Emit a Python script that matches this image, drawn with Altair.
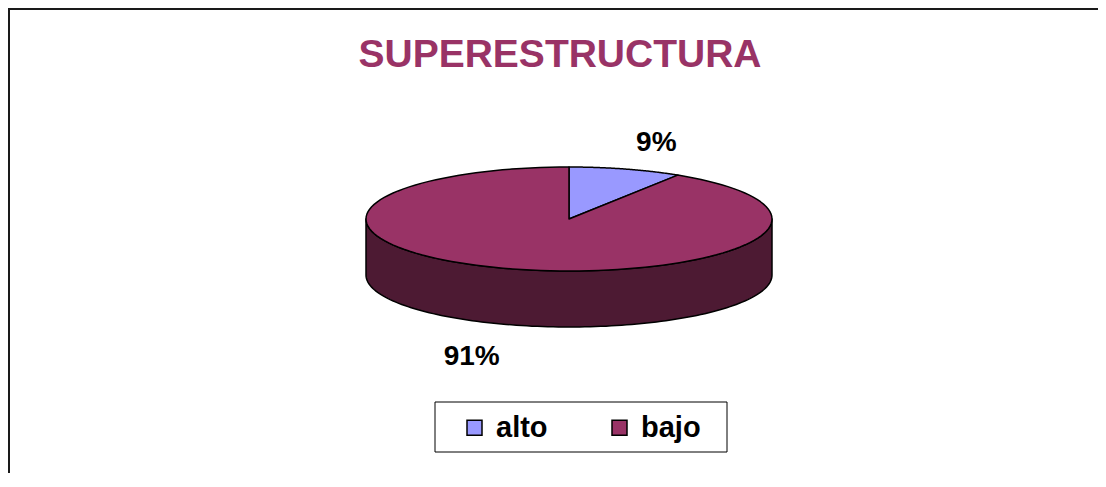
import altair as alt
import pandas as pd

TITLE = "SUPERESTRUCTURA"
categories = ["alto", "bajo"]
values = [9, 91]
top_colors = ["#9999FF", "#993366"]
side_colors = ["#4D4D80", "#4D1A33"]

# layout (pixels)
W, H = 1090, 465
PX = 203.0             # pixels per unit = pie x-radius
CX, CY = 561.0, 211.0  # pie centre inside the chart
SQ = 52.0 / PX         # vertical squash of the top face
DEPTH = 56.0 / PX      # thickness of the pie
RX, RY = 1.63, 1.52    # label radii
LDX = -5.0 / PX        # label nudge
LDY = 6.0 / PX         # extra drop for labels below the pie
N = 120
FONT = "Liberation Sans"

xs = alt.Scale(domain=[-CX / PX, (W - CX) / PX], nice=False, zero=False)
ys = alt.Scale(domain=[-(H - CY) / PX, CY / PX], nice=False, zero=False)

df = pd.DataFrame({"cat": categories, "val": values})

base = (
    alt.Chart(df)
    .transform_joinaggregate(total="sum(val)")
    .transform_window(cum="sum(val)", frame=[None, 0])
    .transform_calculate(t0="(datum.cum - datum.val) / datum.total")
    .transform_calculate(t1="datum.cum / datum.total")
)

# front side (extrusion) of each slice that lies on the visible half
side = (
    base.transform_calculate(s0="max(datum.t0, 0.25)")
    .transform_calculate(s1="min(datum.t1, 0.75)")
    .transform_filter("datum.s1 > datum.s0")
    .transform_calculate(idx=f"sequence(0, {2 * N + 2})")
    .transform_flatten(["idx"])
    .transform_calculate(k=f"datum.idx <= {N} ? datum.idx : {2 * N + 1} - datum.idx")
    .transform_calculate(dz=f"datum.idx <= {N} ? 0 : {DEPTH}")
    .transform_calculate(t=f"datum.s0 + (datum.s1 - datum.s0) * datum.k / {N}")
    .transform_calculate(px="sin(2 * PI * datum.t)")
    .transform_calculate(py=f"cos(2 * PI * datum.t) * {SQ} - datum.dz")
    .mark_line(filled=True, interpolate="linear-closed", stroke="black",
               strokeWidth=1.5, strokeJoin="round", opacity=1)
    .encode(
        x=alt.X("px:Q", scale=xs, axis=None),
        y=alt.Y("py:Q", scale=ys, axis=None),
        color=alt.Color("cat:N", scale=alt.Scale(domain=categories, range=side_colors), legend=None),
        order=alt.Order("idx:Q"),
    )
)

top = (
    base.transform_calculate(idx=f"sequence(0, {N + 2})")
    .transform_flatten(["idx"])
    .transform_calculate(t=f"datum.t0 + (datum.t1 - datum.t0) * min(datum.idx, {N}) / {N}")
    .transform_calculate(r=f"datum.idx > {N} ? 0 : 1")
    .transform_calculate(px="datum.r * sin(2 * PI * datum.t)")
    .transform_calculate(py=f"datum.r * cos(2 * PI * datum.t) * {SQ}")
    .mark_line(filled=True, interpolate="linear-closed", stroke="black",
               strokeWidth=1.5, strokeJoin="round", opacity=1)
    .encode(
        x=alt.X("px:Q", scale=xs, axis=None),
        y=alt.Y("py:Q", scale=ys, axis=None),
        color=alt.Color(
            "cat:N",
            scale=alt.Scale(domain=categories, range=top_colors),
            legend=alt.Legend(
                title=None, orient="none", legendX=427, legendY=394,
                direction="horizontal", symbolType="square", symbolSize=225,
                symbolStrokeColor="black", symbolStrokeWidth=1.5, symbolOpacity=1,
                labelFont=FONT, labelFontSize=29, labelFontWeight="bold",
                labelColor="black", labelOffset=7,
                padding=11, symbolOffset=14, columnPadding=43,
            ),
        ),
        order=alt.Order("idx:Q"),
    )
)

labels = (
    base.transform_calculate(mid="(datum.t0 + datum.t1) / 2")
    .transform_calculate(lbl="format(datum.val / datum.total, '.0%')")
    .transform_calculate(lx=f"{RX} * sin(2 * PI * datum.mid) + {LDX}")
    .transform_calculate(
        ly=f"{RY} * {SQ} * cos(2 * PI * datum.mid) - (cos(2 * PI * datum.mid) < 0 ? {DEPTH + LDY} : 0)"
    )
    .mark_text(font=FONT, fontSize=28, fontWeight="bold", color="black",
               align="center", baseline="middle")
    .encode(
        x=alt.X("lx:Q", scale=xs, axis=None),
        y=alt.Y("ly:Q", scale=ys, axis=None),
        text="lbl:N",
    )
)

one = pd.DataFrame({"t": [TITLE]})
title = alt.Chart(one).mark_text(
    font=FONT, fontSize=39, fontWeight="bold", color="#993366",
    align="center", baseline="alphabetic",
).encode(text="t:N", x=alt.value(552), y=alt.value(59))

border_top = alt.Chart(one).mark_rule(color="#1a1a1a", strokeWidth=2).encode(
    x=alt.value(0), x2=alt.value(W), y=alt.value(1)
)
border_left = alt.Chart(one).mark_rule(color="#1a1a1a", strokeWidth=2).encode(
    x=alt.value(1), y=alt.value(0), y2=alt.value(H)
)
legend_frame = alt.Chart(one).mark_rect(fill="white", stroke="black", strokeWidth=1).encode(
    x=alt.value(427), x2=alt.value(719), y=alt.value(394), y2=alt.value(444)
)

chart = (
    alt.layer(border_top, border_left, title, legend_frame, side, top, labels)
    .resolve_scale(color="independent")
    .properties(width=W, height=H, padding=0, autosize=alt.AutoSizeParams(type="none"),
                background="white")
    .configure_view(stroke="transparent", strokeWidth=0)
)

chart.save("out.html", embed_options={"renderer": "svg", "actions": False})
